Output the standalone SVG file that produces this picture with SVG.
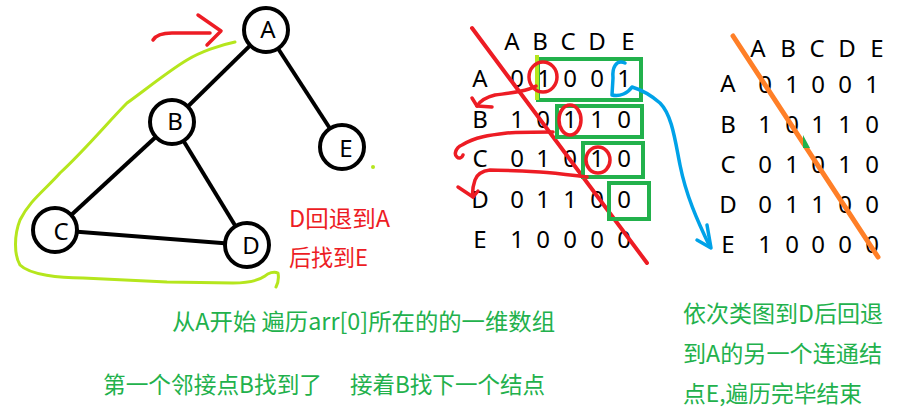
<svg xmlns="http://www.w3.org/2000/svg" width="916" height="416" viewBox="0 0 916 416">
<style>
.edge{stroke:#000;stroke-width:4;fill:none}
.node circle{fill:#fff;stroke:#000;stroke-width:4}
.nl{font-family:"Noto Sans","Noto Sans CJK SC",sans-serif;font-size:24px;fill:#000;text-anchor:middle}
.m{font-family:"Noto Sans","Noto Sans CJK SC",sans-serif;font-size:24px;fill:#000;text-anchor:middle}
.red{stroke:#ed1c24;stroke-width:3.5;fill:none;stroke-linecap:round;stroke-linejoin:round}
.lg{stroke:#b5e61d;stroke-width:3;fill:none;stroke-linecap:round;stroke-linejoin:round}
.gbox{stroke:#22b14c;stroke-width:4;fill:none}
.blue{stroke:#00a2e8;stroke-width:3.5;fill:none;stroke-linecap:round;stroke-linejoin:round}
.rt{font-family:"Noto Sans CJK SC",sans-serif;font-size:23px;fill:#ed1c24}
.gt{font-family:"Noto Sans CJK SC",sans-serif;font-size:23px;fill:#22b14c}
</style>
<g id="connectors">
<line class="edge" x1="266" y1="30" x2="172" y2="122"/>
<line class="edge" x1="266" y1="30" x2="342" y2="147"/>
<line class="edge" x1="172" y1="122" x2="55" y2="230"/>
<line class="edge" x1="172" y1="122" x2="247" y2="245"/>
<line class="edge" x1="55" y1="230" x2="247" y2="245"/>
</g>
<g id="node-A" class="node"><circle cx="266" cy="30" r="22"/><text class="nl" x="268" y="38">A</text></g>
<g id="node-B" class="node"><circle cx="172" cy="122" r="22"/><text class="nl" x="175" y="130">B</text></g>
<g id="node-E" class="node"><circle cx="342" cy="147" r="22"/><text class="nl" x="346" y="157">E</text></g>
<g id="node-C" class="node"><circle cx="55" cy="230" r="22"/><text class="nl" x="61" y="240">C</text></g>
<g id="node-D" class="node"><circle cx="247" cy="245" r="22"/><text class="nl" x="251" y="254">D</text></g>
<g id="annotations-graph">
<path class="red" d="M153,40 C156,35 162,33 172,33 L210,33"/>
<path class="red" d="M198,15 L221,31 L207,45"/>
<path class="lg" d="M235,42 C220,45 200,52 187,60 C170,70 145,90 127,103 C110,120 85,150 60,173 C45,190 30,200 20,220 C14,235 14,255 20,265 C30,275 60,278 83,278 L167,282 L233,283 C248,283 258,281 265,276 C268,273 274,271 278,273 C279,278 278,283 276,287"/>
<circle cx="373" cy="167" r="2" fill="#b5e61d"/>
<text class="rt" x="289" y="227" textLength="101" lengthAdjust="spacingAndGlyphs">D回退到A</text>
<text class="rt" x="289" y="266" textLength="79" lengthAdjust="spacingAndGlyphs">后找到E</text>
</g>
<g id="matrix-1">
<text class="m" x="512" y="50">A</text><text class="m" x="540" y="50">B</text><text class="m" x="568" y="50">C</text><text class="m" x="597" y="50">D</text><text class="m" x="628" y="50">E</text>
<text class="m" x="480" y="87">A</text><text class="m" x="480" y="128">B</text><text class="m" x="480" y="167">C</text><text class="m" x="480" y="208">D</text><text class="m" x="480" y="248">E</text>
<text class="m" y="87"><tspan x="517">0</tspan><tspan x="544">1</tspan><tspan x="570">0</tspan><tspan x="597">0</tspan><tspan x="624">1</tspan></text>
<text class="m" y="128"><tspan x="517">1</tspan><tspan x="543">0</tspan><tspan x="570">1</tspan><tspan x="597">1</tspan><tspan x="624">0</tspan></text>
<text class="m" y="167"><tspan x="517">0</tspan><tspan x="543">1</tspan><tspan x="570">0</tspan><tspan x="597">1</tspan><tspan x="624">0</tspan></text>
<text class="m" y="208"><tspan x="517">0</tspan><tspan x="543">1</tspan><tspan x="570">1</tspan><tspan x="597">0</tspan><tspan x="624">0</tspan></text>
<text class="m" y="248"><tspan x="517">1</tspan><tspan x="543">0</tspan><tspan x="570">0</tspan><tspan x="597">0</tspan><tspan x="624">0</tspan></text>
<line x1="472" y1="28" x2="647" y2="263" stroke="#ed1c24" stroke-width="4" stroke-linecap="round"/>
<rect class="gbox" x="538" y="59" width="103" height="41"/>
<rect class="gbox" x="557" y="106" width="85" height="31"/>
<rect class="gbox" x="583" y="143" width="60" height="34"/>
<rect class="gbox" x="609" y="183" width="40" height="36"/>
<line x1="537" y1="55" x2="537" y2="100" stroke="#b5e61d" stroke-width="4"/>
<ellipse class="red" cx="543" cy="77" rx="14" ry="15"/>
<ellipse class="red" cx="570" cy="120" rx="11" ry="15"/>
<ellipse class="red" cx="598" cy="160" rx="12" ry="13"/>
<path class="red" d="M536,86 C525,92 510,93 495,95 C487,97 480,101 477,106"/>
<path class="red" d="M472,98 L477,106 L492,107"/>
<path class="red" d="M553,132 C540,132 520,132 507,133 C490,135 475,137 462,145 C455,148 454,155 457,157 C459,159 462,158 463,155"/>
<path class="red" d="M587,177 C570,175 555,173 540,172 C520,171 500,170 490,170 C482,171 477,174 475,180 C473,186 472,192 473,197"/>
<path class="red" d="M458,187 L473,197 L478,191"/>
<path class="blue" d="M625,63 C616,59 612,68 613,78 L612,95 C620,97 628,93 632,87 C642,90 652,96 660,103 C672,115 675,140 680,165 C686,195 697,220 710,247"/>
<path class="blue" d="M707,225 L711,248 L697,240"/>
</g>
<g id="matrix-2">
<text class="m" x="758" y="57">A</text><text class="m" x="788" y="57">B</text><text class="m" x="817" y="57">C</text><text class="m" x="847" y="57">D</text><text class="m" x="877" y="57">E</text>
<text class="m" x="728" y="92">A</text><text class="m" x="728" y="133">B</text><text class="m" x="728" y="173">C</text><text class="m" x="728" y="213">D</text><text class="m" x="728" y="253">E</text>
<text class="m" y="93"><tspan x="765">0</tspan><tspan x="792">1</tspan><tspan x="818">0</tspan><tspan x="845">0</tspan><tspan x="872">1</tspan></text>
<text class="m" y="133"><tspan x="765">1</tspan><tspan x="792">0</tspan><tspan x="818">1</tspan><tspan x="845">1</tspan><tspan x="872">0</tspan></text>
<text class="m" y="173"><tspan x="765">0</tspan><tspan x="792">1</tspan><tspan x="818">0</tspan><tspan x="845">1</tspan><tspan x="872">0</tspan></text>
<text class="m" y="213"><tspan x="765">0</tspan><tspan x="792">1</tspan><tspan x="818">1</tspan><tspan x="845">0</tspan><tspan x="872">0</tspan></text>
<text class="m" y="253"><tspan x="765">1</tspan><tspan x="792">0</tspan><tspan x="818">0</tspan><tspan x="845">0</tspan><tspan x="872">0</tspan></text>
<line x1="733" y1="36" x2="878" y2="257" stroke="#ff7f27" stroke-width="5" stroke-linecap="round"/>
<path d="M803,135 L803,148 L810,148 Z" fill="#22b14c"/>
</g>
<g id="captions">
<text class="gt" x="172" y="330" textLength="383" lengthAdjust="spacingAndGlyphs">从A开始 遍历arr[0]所在的的一维数组</text>
<text class="gt" x="103" y="393" textLength="219" lengthAdjust="spacingAndGlyphs">第一个邻接点B找到了</text>
<text class="gt" x="350" y="393" textLength="195" lengthAdjust="spacingAndGlyphs">接着B找下一个结点</text>
<text class="gt" x="683" y="322" textLength="200" lengthAdjust="spacingAndGlyphs">依次类图到D后回退</text>
<text class="gt" x="683" y="362" textLength="199" lengthAdjust="spacingAndGlyphs">到A的另一个连通结</text>
<text class="gt" x="683" y="402" textLength="179" lengthAdjust="spacingAndGlyphs">点E,遍历完毕结束</text>
</g>
</svg>
